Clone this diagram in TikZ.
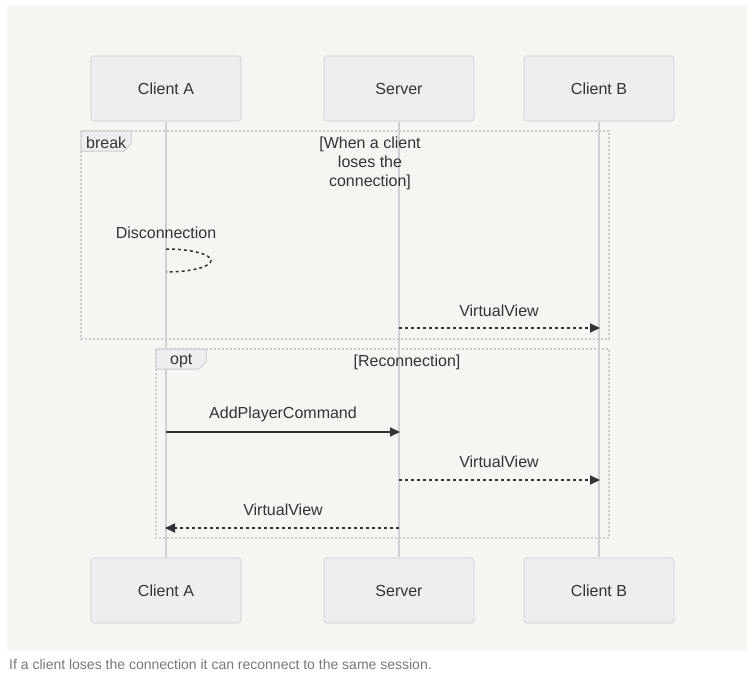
\documentclass[tikz,border=0pt]{standalone}
\usepackage{fontspec}
\setmainfont{Liberation Sans}
\usetikzlibrary{arrows.meta}
\definecolor{panel}{HTML}{F6F5F2}
\definecolor{boxfill}{HTML}{EEEEEE}
\definecolor{boxline}{HTML}{DDDDDD}
\definecolor{lifeline}{HTML}{D0D0D0}
\definecolor{txt}{HTML}{333333}
\definecolor{frameline}{HTML}{CCCCCC}
\definecolor{captxt}{HTML}{777777}
\tikzset{
  actor/.style={draw=boxline, fill=boxfill, line width=1.2pt, rounded corners=3pt,
    minimum width=150pt, minimum height=65pt, inner sep=0pt, text=txt,
    font=\fontsize{16}{19}\selectfont},
  life/.style={draw=lifeline, line width=2pt},
  fragment/.style={draw=frameline, line width=1.2pt, dash pattern=on 2pt off 2pt},
  tab/.style={draw=frameline, fill=boxfill, line width=1pt},
  lbl/.style={text=txt, font=\fontsize{16}{19}\selectfont, inner sep=0pt, yshift=-1pt},
  msg/.style={draw=txt, line width=1.8pt, -{Triangle[length=10pt,width=9pt]}},
  reply/.style={msg, dash pattern=on 3pt off 3pt},
  selfloop/.style={draw=txt, line width=1.5pt, dash pattern=on 3pt off 3pt}
}
\begin{document}
\begin{tikzpicture}[x=1pt,y=-1pt]
\useasboundingbox (0,0) rectangle (755,680);
\fill[panel] (7,6) rectangle (747,650);
% actors
\node[actor] (aT) at (166,88.5) {Client A};
\node[actor] (sT) at (399,88.5) {Server};
\node[actor] (bT) at (599,88.5) {Client B};
\node[actor] (aB) at (166,590.5) {Client A};
\node[actor] (sB) at (399,590.5) {Server};
\node[actor] (bB) at (599,590.5) {Client B};
% lifelines
\draw[life] (aT.south) -- (aB.north);
\draw[life] (sT.south) -- (sB.north);
\draw[life] (bT.south) -- (bB.north);
% break fragment
\draw[fragment] (81,131) rectangle (609,339);
\draw[tab] (81,131) -- (131,131) -- (131,144) -- (124,151) -- (81,151) -- cycle;
\node[lbl, anchor=west] (breaklbl) at (86,142) {break};
\node[lbl, align=center] (cond1) at (370,162) {[When a client\\loses the\\connection]};
% opt fragment
\draw[fragment] (156,349) rectangle (609,538);
\draw[tab] (156,349) -- (206,349) -- (206,362) -- (199,369) -- (156,369) -- cycle;
\node[lbl, anchor=west] (optlbl) at (170,360) {opt};
\node[lbl] (cond2) at (407,361) {[Reconnection]};
% disconnection self message
\node[lbl] (disc) at (166,232) {Disconnection};
\coordinate (d1) at (166,249);
\draw[selfloop] (d1) arc[start angle=-90, end angle=90, x radius=45, y radius=11.5];
% message anchors
\coordinate (s1) at (399,328); \coordinate (b1) at (600,328);
\coordinate (a2) at (166,432); \coordinate (s2) at (400,432);
\coordinate (s3) at (399,480); \coordinate (b3) at (600,480);
\coordinate (s4) at (399,528); \coordinate (a4) at (165,528);
\draw[reply] (s1) -- (b1);
\node[lbl] (m1) at (499,310) {VirtualView};
\draw[msg] (a2) -- (s2);
\node[lbl] (m2) at (283,413) {AddPlayerCommand};
\draw[reply] (s3) -- (b3);
\node[lbl] (m3) at (499,461) {VirtualView};
\draw[reply] (s4) -- (a4);
\node[lbl] (m4) at (283,509) {VirtualView};
% caption
\node[anchor=west, text=captxt, font=\fontsize{14}{16}\selectfont, inner sep=0pt] (cap) at (9,664) {If a client loses the connection it can reconnect to the same session.};
\end{tikzpicture}
\end{document}
